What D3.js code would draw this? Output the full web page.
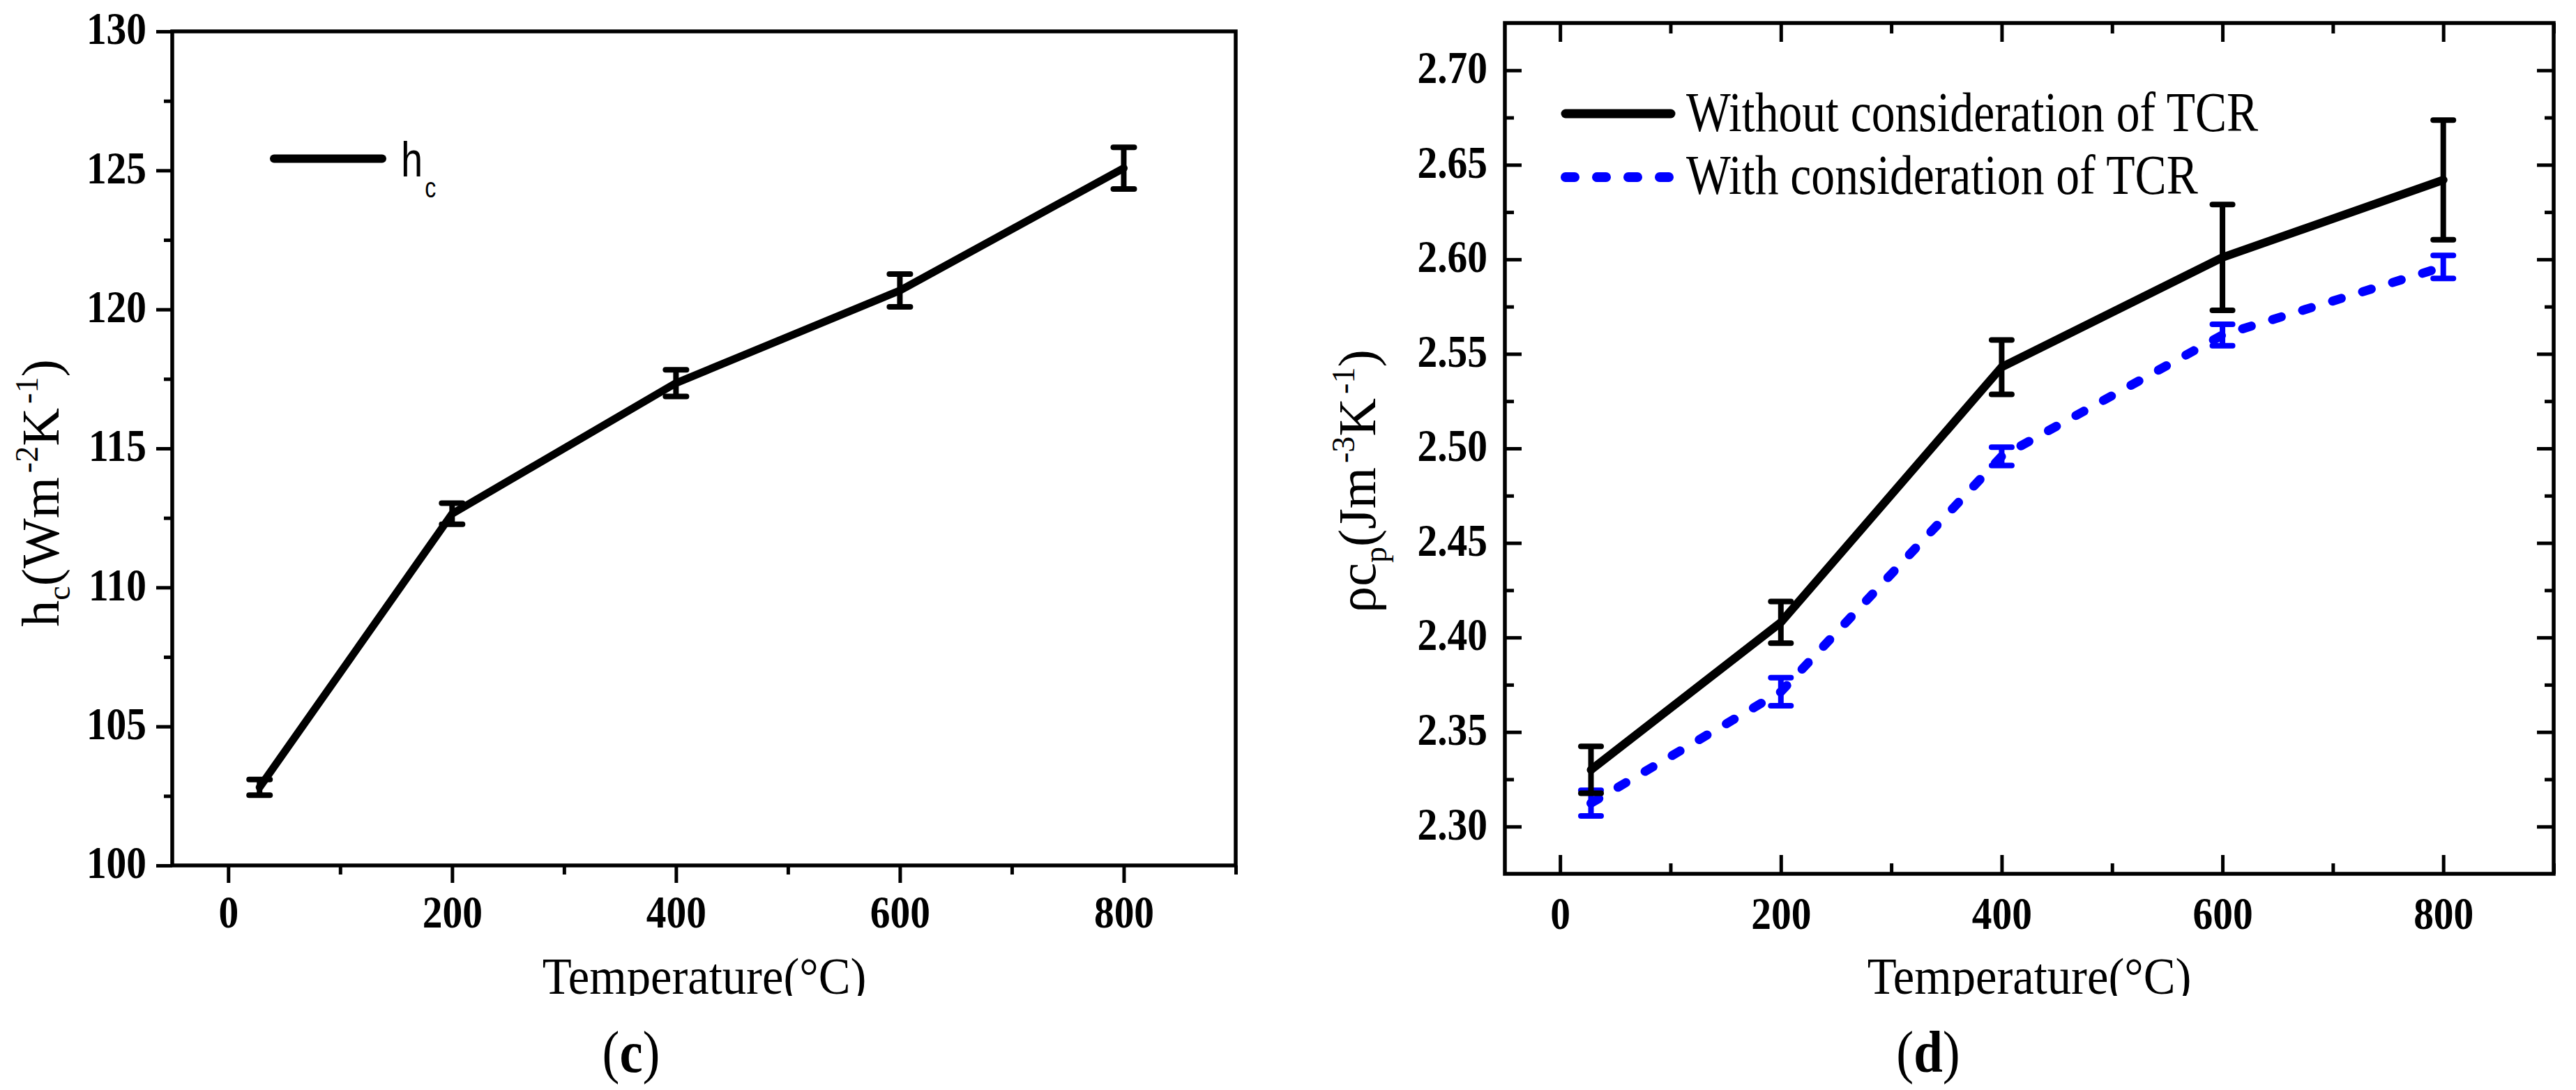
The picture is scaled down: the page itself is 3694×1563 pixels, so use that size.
<!DOCTYPE html>
<html lang="en">
<head>
  <meta charset="UTF-8">
  <script src="https://cdn.jsdelivr.net/npm/d3@7"></script>
  <title>hc and rho cp vs temperature</title>
  <style>
    body { margin: 0; background: #fff; }
    svg { display: block; }
  </style>
</head>
<body>
  <svg width="3694" height="1563"></svg>
  <script>
    // data
    var temps = [28, 200, 400, 600, 800];
    var hc = [102.81, 112.65, 117.35, 120.68, 125.08];
    var hcErr = [0.28, 0.38, 0.48, 0.59, 0.75];
    var rhoCpWithout = [2.330, 2.408, 2.543, 2.601, 2.642];
    var rhoCpWithoutErr = [0.0124, 0.011, 0.0144, 0.028, 0.0316];
    var rhoCpWith = [2.3124, 2.3713, 2.4958, 2.560, 2.596];
    var rhoCpWithErr = [0.0068, 0.0074, 0.0048, 0.0057, 0.0061];

    var tempTicks = [0, 200, 400, 600, 800];
    var tempMinor = [100, 300, 500, 700, 900];
    var hcTicks = [100, 105, 110, 115, 120, 125, 130];
    var hcMinor = [102.5, 107.5, 112.5, 117.5, 122.5, 127.5];
    var rhoTicks = [2.30, 2.35, 2.40, 2.45, 2.50, 2.55, 2.60, 2.65, 2.70];
    var rhoMinor = [2.325, 2.375, 2.425, 2.475, 2.525, 2.575, 2.625, 2.675];

    var SERIF = "'Liberation Serif', 'Times New Roman', serif";
    var SANS = "'Liberation Sans', Arial, sans-serif";
    var BLUE = "#0000ff";
    var SQ = 0.87; // the figure's text is a bit narrow

    var svg = d3.select("svg");

    // the x titles are cut off just under their baseline in the original
    svg.append("defs").append("clipPath").attr("id", "cutBottom")
      .append("rect").attr("x", 0).attr("y", 0).attr("width", 3694).attr("height", 1428);

    // narrow the tick labels drawn by d3.axis
    function styleAxis(g, fontSize, squeeze) {
      g.select(".domain").remove();
      g.attr("font-family", SERIF).attr("font-size", fontSize).attr("font-weight", "bold");
      g.selectAll(".tick line").attr("stroke-width", 5);
      g.selectAll(".tick text").each(function () {
        var t = d3.select(this);
        var x = +t.attr("x") || 0;
        t.attr("x", x / squeeze).attr("transform", "scale(" + squeeze + ",1)");
      });
    }

    function squeezedText(parent, x, y, str, size, squeeze, anchor) {
      return parent.append("text")
        .attr("transform", "translate(" + x + "," + y + ") scale(" + squeeze + ",1)")
        .attr("text-anchor", anchor || "start")
        .attr("font-family", SERIF)
        .attr("font-size", size)
        .text(str);
    }

    function errorBars(g, x, y, vals, errs, color, cap) {
      var eb = g.append("g").attr("stroke", color).attr("stroke-width", 8).attr("stroke-linecap", "round");
      vals.forEach(function (v, i) {
        var px = x(temps[i]);
        eb.append("line").attr("x1", px).attr("x2", px)
          .attr("y1", y(v - errs[i])).attr("y2", y(v + errs[i])).attr("stroke-linecap", "butt");
        [v - errs[i], v + errs[i]].forEach(function (e) {
          eb.append("line").attr("x1", px - cap / 2).attr("x2", px + cap / 2)
            .attr("y1", y(e)).attr("y2", y(e));
        });
      });
    }

    // ---------- (c) h_c ----------
    var xL = d3.scaleLinear().domain([-50, 900]).range([247, 1772]);
    var yL = d3.scaleLinear().domain([100, 130]).range([1241, 45]);
    var gL = svg.append("g");

    gL.append("g").attr("transform", "translate(247,0)")
      .call(d3.axisLeft(yL).tickValues(hcTicks).tickSize(23).tickPadding(14).tickFormat(d3.format("d")))
      .call(function (g) { styleAxis(g, 66, SQ); g.selectAll(".tick text").attr("dy", "0.27em"); });
    gL.append("g").attr("transform", "translate(247,0)")
      .call(d3.axisLeft(yL).tickValues(hcMinor).tickSize(12).tickFormat(""))
      .call(function (g) { styleAxis(g, 66, SQ); });
    gL.append("g").attr("transform", "translate(0,1241)")
      .call(d3.axisBottom(xL).tickValues(tempTicks).tickSize(25).tickPadding(17).tickFormat(d3.format("d")))
      .call(function (g) { styleAxis(g, 66, SQ); });
    gL.append("g").attr("transform", "translate(0,1241)")
      .call(d3.axisBottom(xL).tickValues(tempMinor).tickSize(13).tickFormat(""))
      .call(function (g) { styleAxis(g, 66, SQ); });

    gL.append("rect").attr("x", 247).attr("y", 45).attr("width", 1772 - 247).attr("height", 1241 - 45)
      .attr("fill", "none").attr("stroke", "#000").attr("stroke-width", 5.5);

    gL.append("path").datum(hc)
      .attr("fill", "none").attr("stroke", "#000").attr("stroke-width", 11)
      .attr("stroke-linejoin", "round").attr("stroke-linecap", "round")
      .attr("d", d3.line().x(function (d, i) { return xL(temps[i]); }).y(function (d) { return yL(d); }));
    errorBars(gL, xL, yL, hc, hcErr, "#000", 30);

    // legend
    gL.append("line").attr("x1", 393).attr("x2", 548).attr("y1", 227.5).attr("y2", 227.5)
      .attr("stroke", "#000").attr("stroke-width", 12).attr("stroke-linecap", "round");
    var lgL = gL.append("text").attr("transform", "translate(575,253) scale(0.8,1)")
      .attr("font-family", SANS).attr("font-size", 70);
    lgL.append("tspan").text("h");
    lgL.append("tspan").attr("font-size", 40).attr("dy", 30).attr("dx", 4).text("c");

    // axis titles
    squeezedText(gL.append("g").attr("clip-path", "url(#cutBottom)"),
      1010, 1425, "Temperature(\u00b0C)", 73, 0.94, "middle");
    var ytL = gL.append("text").attr("transform", "translate(84,707) rotate(-90)")
      .attr("text-anchor", "middle").attr("font-family", SERIF).attr("font-size", 76);
    ytL.append("tspan").text("h");
    ytL.append("tspan").attr("font-size", 46).attr("dy", 16).text("c");
    ytL.append("tspan").attr("dy", -16).text("(Wm");
    ytL.append("tspan").attr("font-size", 46).attr("dy", -30).attr("dx", 6).text("-2");
    ytL.append("tspan").attr("dy", 30).text("K");
    ytL.append("tspan").attr("font-size", 46).attr("dy", -30).attr("dx", 6).text("-1");
    ytL.append("tspan").attr("dy", 30).text(")");

    var capC = gL.append("text").attr("transform", "translate(905,1537) scale(0.88,1)")
      .attr("text-anchor", "middle").attr("font-family", SERIF).attr("font-size", 85);
    capC.append("tspan").text("(");
    capC.append("tspan").attr("font-weight", "bold").text("c");
    capC.append("tspan").text(")");

    // ---------- (d) rho c_p ----------
    var xR = d3.scaleLinear().domain([-50, 900]).range([2158, 3662]);
    var yR = d3.scaleLinear().domain([2.275, 2.725]).range([1253, 33]);
    var gR = svg.append("g");

    gR.append("g").attr("transform", "translate(2158,0)")
      .call(d3.axisLeft(yR).tickValues(rhoTicks).tickSize(-24).tickPadding(25).tickFormat(d3.format(".2f")))
      .call(function (g) { styleAxis(g, 66, SQ); g.selectAll(".tick text").attr("dy", "0.27em"); });
    gR.append("g").attr("transform", "translate(2158,0)")
      .call(d3.axisLeft(yR).tickValues(rhoMinor).tickSize(-13).tickFormat(""))
      .call(function (g) { styleAxis(g, 66, SQ); });
    gR.append("g").attr("transform", "translate(3662,0)")
      .call(d3.axisRight(yR).tickValues(rhoTicks).tickSize(-24).tickFormat(""))
      .call(function (g) { styleAxis(g, 66, SQ); });
    gR.append("g").attr("transform", "translate(3662,0)")
      .call(d3.axisRight(yR).tickValues(rhoMinor).tickSize(-13).tickFormat(""))
      .call(function (g) { styleAxis(g, 66, SQ); });
    gR.append("g").attr("transform", "translate(0,1253)")
      .call(d3.axisBottom(xR).tickValues(tempTicks).tickSize(-27).tickPadding(32).tickFormat(d3.format("d")))
      .call(function (g) { styleAxis(g, 66, SQ); });
    gR.append("g").attr("transform", "translate(0,1253)")
      .call(d3.axisBottom(xR).tickValues(tempMinor).tickSize(-15).tickFormat(""))
      .call(function (g) { styleAxis(g, 66, SQ); });
    gR.append("g").attr("transform", "translate(0,33)")
      .call(d3.axisTop(xR).tickValues(tempTicks).tickSize(-27).tickFormat(""))
      .call(function (g) { styleAxis(g, 66, SQ); });
    gR.append("g").attr("transform", "translate(0,33)")
      .call(d3.axisTop(xR).tickValues(tempMinor).tickSize(-15).tickFormat(""))
      .call(function (g) { styleAxis(g, 66, SQ); });

    gR.append("rect").attr("x", 2158).attr("y", 33).attr("width", 3662 - 2158).attr("height", 1253 - 33)
      .attr("fill", "none").attr("stroke", "#000").attr("stroke-width", 5.5);

    var lineR = function (vals) {
      return d3.line().x(function (d, i) { return xR(temps[i]); }).y(function (d) { return yR(d); })(vals);
    };
    gR.append("path").attr("d", lineR(rhoCpWith))
      .attr("fill", "none").attr("stroke", BLUE).attr("stroke-width", 13)
      .attr("stroke-dasharray", "13,32").attr("stroke-linecap", "round").attr("stroke-linejoin", "round");
    errorBars(gR, xR, yR, rhoCpWith, rhoCpWithErr, BLUE, 29);
    gR.append("path").attr("d", lineR(rhoCpWithout))
      .attr("fill", "none").attr("stroke", "#000").attr("stroke-width", 12)
      .attr("stroke-linejoin", "round").attr("stroke-linecap", "round");
    errorBars(gR, xR, yR, rhoCpWithout, rhoCpWithoutErr, "#000", 29);

    // legend
    gR.append("line").attr("x1", 2245).attr("x2", 2396).attr("y1", 163).attr("y2", 163)
      .attr("stroke", "#000").attr("stroke-width", 13).attr("stroke-linecap", "round");
    gR.append("line").attr("x1", 2245).attr("x2", 2396).attr("y1", 254).attr("y2", 254)
      .attr("stroke", BLUE).attr("stroke-width", 14)
      .attr("stroke-dasharray", "13,32").attr("stroke-linecap", "round");
    squeezedText(gR, 2418, 188, "Without consideration of TCR", 80, 0.845);
    squeezedText(gR, 2418, 278, "With consideration of TCR", 80, 0.845);

    // axis titles
    squeezedText(gR.append("g").attr("clip-path", "url(#cutBottom)"),
      2910, 1425, "Temperature(\u00b0C)", 73, 0.94, "middle");
    var ytR = gR.append("text").attr("transform", "translate(1972,690) rotate(-90)")
      .attr("text-anchor", "middle").attr("font-family", SERIF).attr("font-size", 76);
    ytR.append("tspan").text("\u03c1c");
    ytR.append("tspan").attr("font-size", 46).attr("dy", 16).text("p");
    ytR.append("tspan").attr("dy", -16).text("(Jm");
    ytR.append("tspan").attr("font-size", 46).attr("dy", -30).attr("dx", 6).text("-3");
    ytR.append("tspan").attr("dy", 30).text("K");
    ytR.append("tspan").attr("font-size", 46).attr("dy", -30).attr("dx", 6).text("-1");
    ytR.append("tspan").attr("dy", 30).text(")");

    var capD = gR.append("text").attr("transform", "translate(2765,1537) scale(0.88,1)")
      .attr("text-anchor", "middle").attr("font-family", SERIF).attr("font-size", 85);
    capD.append("tspan").text("(");
    capD.append("tspan").attr("font-weight", "bold").text("d");
    capD.append("tspan").text(")");
  </script>
</body>
</html>
